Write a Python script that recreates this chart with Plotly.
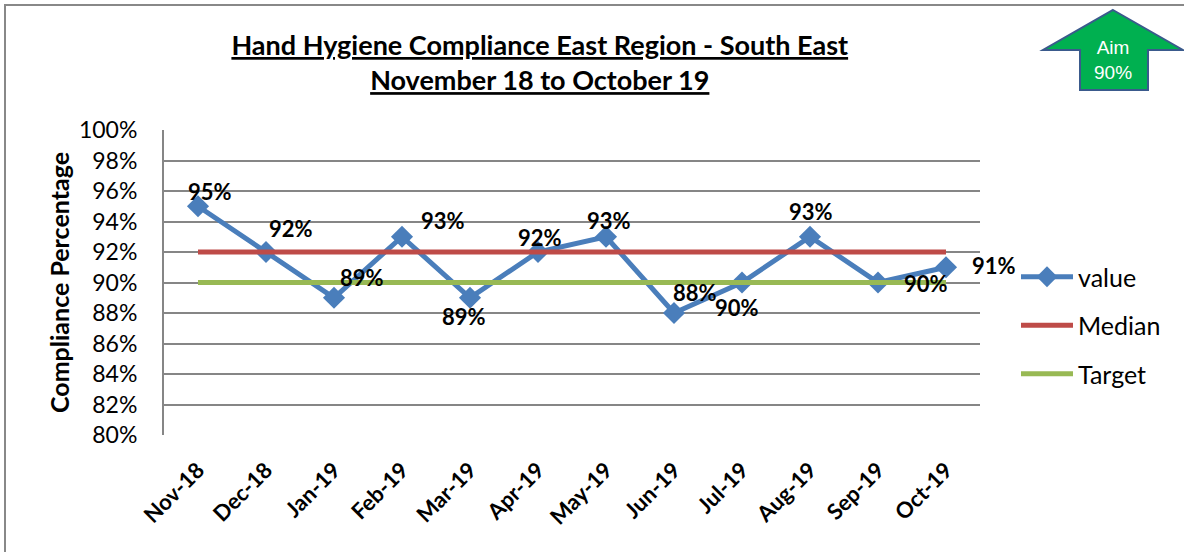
import plotly.graph_objects as go

months = ["Nov-18", "Dec-18", "Jan-19", "Feb-19", "Mar-19", "Apr-19",
          "May-19", "Jun-19", "Jul-19", "Aug-19", "Sep-19", "Oct-19"]
values = [95, 92, 89, 93, 89, 92, 93, 88, 90, 93, 90, 91]
median = [92] * 12
target = [90] * 12
label_dx = [12, 25, 28, 41, -6, 2, 3, 21, -5, 1, 48, 48]
label_dy = [15, 24, 20, 16, -19, 15, 16, 21, -25, 25, -1, 2]

FONT = "Lato"
W, H = 1184, 552
L, R, T, B = 164, 980, 130, 435


def px(x):
    return (x - L) / (R - L)


def py(y):
    return (B - y) / (B - T)


fig = go.Figure()
fig.add_trace(go.Scatter(
    x=months, y=values, name="value", mode="lines+markers",
    line=dict(color="#4A7EBB", width=5),
    marker=dict(symbol="diamond", size=17, color="#4A7EBB"),
    legendgroup="a"))
fig.add_trace(go.Scatter(
    x=months, y=median, name="Median", mode="lines",
    line=dict(color="#BE4B48", width=5), legendgroup="b"))
fig.add_trace(go.Scatter(
    x=months, y=target, name="Target", mode="lines",
    line=dict(color="#98B954", width=5), legendgroup="c"))

for m, v, dx, dy in zip(months, values, label_dx, label_dy):
    fig.add_annotation(x=m, y=v, text=f"<b>{v}%</b>", showarrow=False,
                       xshift=dx, yshift=dy,
                       font=dict(family=FONT, size=22, color="black"))

# outer chart border
fig.add_shape(type="rect", xref="paper", yref="paper",
              x0=px(5), x1=px(1200), y0=py(5), y1=py(570),
              line=dict(color="#888888", width=2), layer="below")

# aim arrow
pts = [(1113, 10), (1183, 50), (1148, 50), (1148, 90), (1080, 90),
       (1080, 50), (1043, 50)]
path = "M " + " L ".join(f"{px(a):.5f},{py(b):.5f}" for a, b in pts) + " Z"
fig.add_shape(type="path", xref="paper", yref="paper", path=path,
              fillcolor="#00B050", line=dict(color="#3A5A8C", width=2))
fig.add_annotation(xref="paper", yref="paper", x=px(1113), y=py(60),
                   xanchor="center", yanchor="middle",
                   text="Aim<br>90%", showarrow=False,
                   font=dict(family="Liberation Sans", size=19, color="white"))

fig.update_layout(
    width=W, height=H,
    margin=dict(l=L, r=W - R, t=T, b=H - B),
    paper_bgcolor="white", plot_bgcolor="white",
    hovermode=False,
    title=dict(
        text="<b><u>Hand Hygiene Compliance East Region - South East</u></b><br>"
             "<b><u>November 18 to October 19</u></b>",
        x=px(536), xanchor="center", y=1 - 55 / H, yanchor="middle",
        font=dict(family=FONT, size=27, color="black")),
    font=dict(family=FONT, color="black"),
    legend=dict(x=px(1016), y=py(254), xanchor="left", yanchor="top",
                font=dict(family=FONT, size=25, color="black"),
                tracegroupgap=13, itemwidth=52, bgcolor="rgba(0,0,0,0)"),
    xaxis=dict(type="category", tickangle=-45, showgrid=False,
               showline=False, ticks="", ticklabelstandoff=17,
               tickfont=dict(family=FONT, size=22, color="black", weight="bold"),
               range=[-0.5, 11.5]),
    yaxis=dict(range=[80, 100], dtick=2, ticksuffix="%", showgrid=True,
               gridcolor="#868686", gridwidth=1.5, zeroline=False,
               showline=True, linecolor="#868686", linewidth=2,
               ticks="", ticklabelstandoff=20,
               tickfont=dict(family=FONT, size=23, color="black"),
               title=dict(text="<b>Compliance Percentage</b>", standoff=2,
                          font=dict(family=FONT, size=25, color="black"))),
)

fig.write_html("out.html", config={"displayModeBar": False},
               post_script="document.body.style.margin='0';")
